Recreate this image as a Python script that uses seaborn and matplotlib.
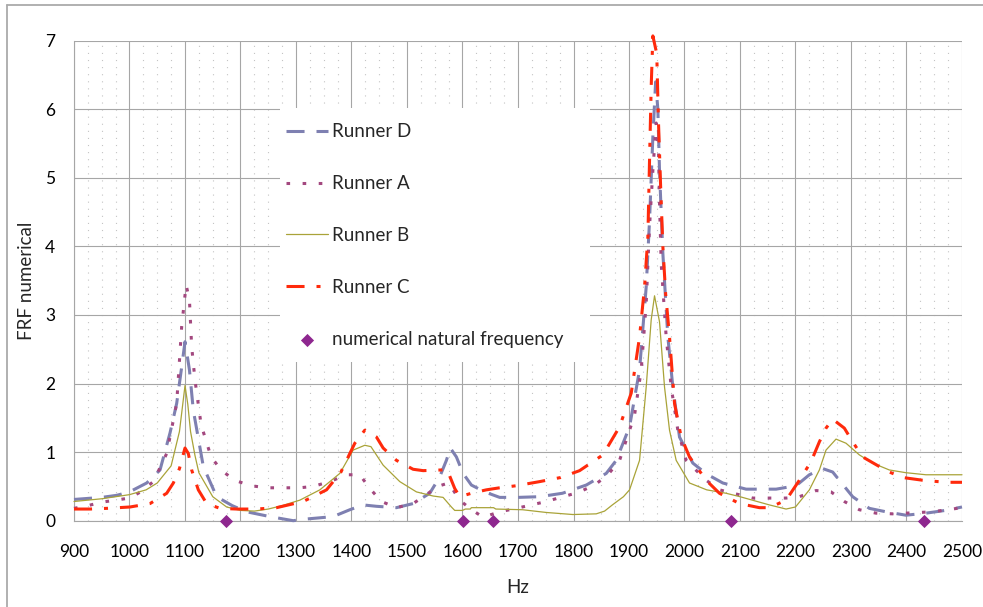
import matplotlib
matplotlib.use("Agg")
import matplotlib.pyplot as plt
from matplotlib.lines import Line2D
from matplotlib.patches import Rectangle
from matplotlib.ticker import MultipleLocator
import numpy as np
import pandas as pd
import seaborn as sns

# ---- FRF curves (frequency in Hz, amplitude) ----
d_hz = [900, 950, 977, 1000, 1031, 1055, 1073, 1085, 1094, 1100, 1108, 1115, 1133,
        1157, 1185, 1211, 1253, 1295, 1312, 1340, 1367, 1397, 1421, 1445, 1481, 1511,
        1541, 1559, 1571, 1578, 1589, 1601, 1616, 1640, 1667, 1700, 1739, 1780, 1823,
        1859, 1877, 1901, 1919, 1931, 1937, 1943, 1948, 1952, 1955, 1961, 1970, 1979,
        1991, 2015, 2040, 2069, 2111, 2165, 2201, 2225, 2249, 2267, 2291, 2303, 2333,
        2363, 2399, 2435, 2470, 2500]
d_val = [0.31, 0.34, 0.37, 0.42, 0.55, 0.74, 1.28, 1.71, 2.24, 2.61, 2.20, 1.61, 0.79,
         0.35, 0.22, 0.13, 0.06, 0.00, 0.02, 0.04, 0.06, 0.16, 0.23, 0.21, 0.19, 0.25,
         0.40, 0.64, 0.88, 1.06, 0.93, 0.69, 0.52, 0.42, 0.34, 0.34, 0.35, 0.40, 0.52,
         0.69, 0.88, 1.37, 2.20, 3.41, 4.38, 5.60, 6.40, 6.00, 5.10, 3.90, 2.68, 1.95,
         1.22, 0.84, 0.68, 0.55, 0.46, 0.46, 0.51, 0.67, 0.76, 0.71, 0.47, 0.35, 0.18,
         0.13, 0.08, 0.11, 0.15, 0.20]

a_hz = [900, 925, 950, 975, 1000, 1020, 1043, 1067, 1085, 1094, 1102, 1108, 1112, 1118,
        1129, 1147, 1165, 1189, 1219, 1247, 1307, 1331, 1361, 1391, 1415, 1433, 1454,
        1481, 1511, 1535, 1555, 1575, 1595, 1613, 1637, 1667, 1697, 1724, 1751, 1781,
        1808, 1838, 1862, 1883, 1910, 1922, 1931, 1937, 1943, 1949, 1953, 1955, 1958,
        1967, 1976, 1988, 2003, 2039, 2063, 2123, 2183, 2207, 2237, 2264, 2288, 2315,
        2345, 2375, 2399, 2447, 2500]
a_val = [0.18, 0.22, 0.27, 0.30, 0.33, 0.42, 0.57, 0.98, 1.71, 2.83, 3.44, 3.22, 2.54, 2.05,
         1.40, 0.93, 0.74, 0.59, 0.51, 0.48, 0.48, 0.50, 0.57, 0.67, 0.67, 0.47, 0.28,
         0.19, 0.25, 0.38, 0.50, 0.55, 0.30, 0.18, 0.05, 0.13, 0.18, 0.23, 0.28, 0.35,
         0.41, 0.52, 0.67, 0.88, 1.54, 2.20, 3.17, 4.29, 5.11, 5.80, 5.45, 4.63, 3.75,
         2.68, 1.95, 1.32, 0.88, 0.59, 0.45, 0.33, 0.33, 0.35, 0.44, 0.42, 0.28, 0.16,
         0.11, 0.10, 0.11, 0.13, 0.19]

b_hz = [900, 950, 1000, 1030, 1050, 1075, 1090, 1100, 1105, 1110, 1118, 1125, 1150, 1175,
        1200, 1225, 1250, 1275, 1307, 1343, 1379, 1403, 1424, 1435, 1457, 1487, 1517,
        1547, 1565, 1580, 1586, 1600, 1605, 1614, 1616, 1656, 1660, 1708, 1751, 1799,
        1841, 1856, 1870, 1890, 1901, 1919, 1931, 1940, 1946, 1955, 1964, 1973, 1985,
        2009, 2040, 2075, 2100, 2153, 2183, 2200, 2225, 2243, 2255, 2273, 2291, 2315,
        2339, 2369, 2399, 2435, 2500]
b_val = [0.28, 0.32, 0.38, 0.45, 0.55, 0.80, 1.30, 1.97, 1.70, 1.30, 0.95, 0.70, 0.35, 0.20,
         0.15, 0.14, 0.17, 0.22, 0.30, 0.45, 0.69, 1.03, 1.10, 1.08, 0.81, 0.57, 0.42,
         0.36, 0.34, 0.20, 0.15, 0.15, 0.17, 0.17, 0.19, 0.19, 0.17, 0.16, 0.12, 0.09,
         0.10, 0.14, 0.23, 0.35, 0.45, 0.88, 1.95, 2.93, 3.28, 2.90, 1.95, 1.32, 0.88,
         0.55, 0.45, 0.40, 0.35, 0.23, 0.17, 0.20, 0.45, 0.74, 1.03, 1.19, 1.13, 0.96,
         0.84, 0.74, 0.70, 0.67, 0.67]

c_hz = [900, 929, 959, 1001, 1037, 1067, 1079, 1090, 1100, 1106, 1112, 1124, 1139, 1163,
        1193, 1229, 1265, 1313, 1355, 1381, 1397, 1406, 1424, 1445, 1457, 1481, 1511,
        1529, 1562, 1572, 1580, 1586, 1595, 1616, 1643, 1667, 1697, 1739, 1777, 1811,
        1853, 1883, 1904, 1919, 1928, 1934, 1937, 1940, 1943, 1950, 1953, 1957, 1961,
        1966, 1973, 1982, 1994, 2009, 2039, 2063, 2075, 2099, 2135, 2153, 2183, 2207,
        2228, 2243, 2255, 2267, 2288, 2303, 2321, 2351, 2369, 2393, 2429, 2471, 2500]
c_val = [0.17, 0.17, 0.18, 0.20, 0.25, 0.40, 0.55, 0.76, 1.06, 0.98, 0.74, 0.45, 0.25, 0.18,
         0.17, 0.17, 0.19, 0.28, 0.45, 0.71, 0.98, 1.13, 1.32, 1.22, 1.06, 0.88, 0.75,
         0.73, 0.74, 0.75, 0.59, 0.47, 0.35, 0.40, 0.45, 0.48, 0.51, 0.57, 0.63, 0.73,
         0.96, 1.37, 1.86, 2.68, 3.41, 4.14, 5.26, 6.33, 7.07, 6.81, 5.84, 4.87, 4.00,
         3.31, 2.68, 1.71, 1.22, 0.93, 0.59, 0.40, 0.35, 0.25, 0.19, 0.19, 0.30, 0.59,
         0.86, 1.15, 1.35, 1.48, 1.35, 1.15, 0.93, 0.79, 0.71, 0.63, 0.59, 0.56, 0.56]

# ---- numerically computed natural frequencies ----
nat_hz = [1174, 1601, 1655, 2084, 2432]
nat_val = [0, 0, 0, 0, 0]

x_ticks = list(range(900, 2501, 100))
y_ticks = list(range(0, 8))

sns.set_style("white")
plt.rcParams["font.family"] = ["Lato", "DejaVu Sans"]
plt.rcParams["lines.scale_dashes"] = False

GRID = "#A6A6A6"
col_d, col_a, col_b, col_c = "#7E80B1", "#A3487F", "#A9A338", "#FF2A0C"
col_nat = "#8E278F"

fig = plt.figure(figsize=(9.83, 6.07), dpi=100)
ax = fig.add_axes([74 / 983, 1 - 520.7 / 607, 888 / 983, 480 / 607])

# outer chart border
fig.add_artist(Line2D([7 / 983, 7 / 983], [0, 1 - 5 / 607], transform=fig.transFigure,
                      color="#AAAAAA", lw=1.3))
fig.add_artist(Line2D([7 / 983, 1], [1 - 5 / 607, 1 - 5 / 607], transform=fig.transFigure,
                      color="#AAAAAA", lw=1.3))

series = [
    ("Runner D", d_hz, d_val, col_d, 2.2, (0, (13, 8.6)), "butt"),
    ("Runner A", a_hz, a_val, col_a, 2.2, (0, (2.6, 9.0)), "butt"),
    ("Runner B", b_hz, b_val, col_b, 0.9, "-", "butt"),
    ("Runner C", c_hz, c_val, col_c, 2.2, (0, (13, 8.6, 2.9, 8.6)), "butt"),
]

for name, hz, val, col, lw, ls, cap in series:
    df = pd.DataFrame({"Hz": hz, "FRF": val})
    sns.lineplot(data=df, x="Hz", y="FRF", ax=ax, color=col, lw=lw, linestyle=ls,
                 label=name, sort=False, estimator=None, zorder=4)
    line = ax.lines[-1]
    line.set_dash_capstyle(cap)
    line.set_clip_on(False)

nat_df = pd.DataFrame({"Hz": nat_hz, "FRF": nat_val})
sns.scatterplot(data=nat_df, x="Hz", y="FRF", ax=ax, marker="D", s=45, color=col_nat,
                edgecolor=col_nat, linewidth=0, label="numerical natural frequency",
                zorder=6, clip_on=False)

ax.set_xlim(900, 2500)
ax.set_ylim(0, 7)
ax.set_xticks(x_ticks)
ax.set_yticks(y_ticks)
ax.xaxis.set_minor_locator(MultipleLocator(25))

ax.grid(True, which="major", color=GRID, lw=0.8, zorder=0)
ax.grid(True, which="minor", axis="x", color="#C4C4C4", lw=0.8,
        linestyle=(0, (0.8, 4.3)), zorder=0)
ax.set_axisbelow(True)

for side in ["top", "right"]:
    ax.spines[side].set_visible(False)
for side in ["left", "bottom"]:
    ax.spines[side].set_color(GRID)
    ax.spines[side].set_linewidth(0.8)

ax.tick_params(axis="both", which="major", labelsize=12.5, colors="#000000",
               length=5, width=0.8, color=GRID, direction="out")
ax.tick_params(axis="y", pad=8.5)
ax.tick_params(axis="x", pad=12)
ax.tick_params(which="minor", length=0)

ax.set_xlabel("Hz", fontsize=13.5)
ax.set_ylabel("FRF numerical", fontsize=13.5)
ax.xaxis.set_label_coords(0.5, -0.122)
ax.yaxis.set_label_coords(-0.044, 0.5)

# white legend panel
ax.add_patch(Rectangle((0.232, 0.331), 0.349, 0.529, transform=ax.transAxes,
                       facecolor="white", edgecolor="none", zorder=7))
leg = ax.legend(loc="upper left", bbox_to_anchor=(0.2386, 0.828), frameon=False,
                fontsize=13.5, labelspacing=1.86, handlelength=2.24, handletextpad=0.2,
                borderaxespad=0, borderpad=0)
leg.set_zorder(8)

fig.savefig("out.png", dpi=100, facecolor="white")
